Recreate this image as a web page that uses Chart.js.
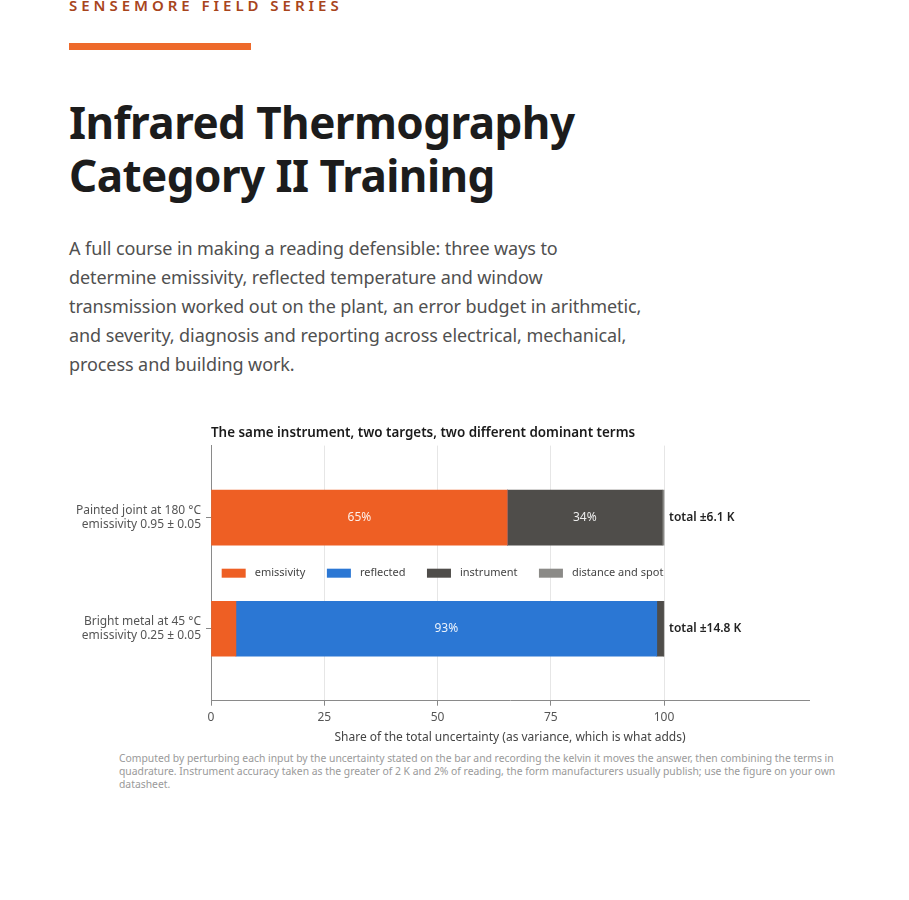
<!DOCTYPE html>
<html>
<head>
<meta charset="utf-8">
<script src="https://cdn.jsdelivr.net/npm/chart.js@4.4.1/dist/chart.umd.min.js"></script>
<style>
  html, body { margin: 0; padding: 0; background: #ffffff; }
  body { width: 909px; height: 900px; position: relative; overflow: hidden; font-family: "Noto Sans", "Open Sans", sans-serif; }
  .kicker { position: absolute; left: 69px; top: -2px; font-size: 15px; line-height: 15px; font-weight: 600; letter-spacing: 3.97px; color: #a8451c; white-space: nowrap; }
  .rule { position: absolute; left: 69px; top: 43px; width: 182px; height: 7px; background: #ee6a2b; }
  h1 { position: absolute; left: 69px; top: 96px; margin: 0; font-size: 44px; line-height: 53px; font-weight: 700; color: #1c1c1c; letter-spacing: -0.55px; white-space: nowrap; }
  .lede { position: absolute; left: 69px; top: 233.5px; margin: 0; font-size: 18px; line-height: 29px; color: #505050; white-space: nowrap; letter-spacing: -0.08px; }
  .chartbox { position: absolute; left: 60px; top: 412px; width: 780px; height: 337px; }
  .note { position: absolute; left: 119px; top: 752px; margin: 0; font-size: 10.35px; line-height: 13px; color: #9a9a9a; white-space: nowrap; }
</style>
</head>
<body>
<div class="kicker">SENSEMORE FIELD SERIES</div>
<div class="rule"></div>
<h1>Infrared Thermography<br>Category II Training</h1>
<p class="lede">A full course in making a reading defensible: three ways to<br>determine emissivity, reflected temperature and window<br>transmission worked out on the plant, an error budget in arithmetic,<br>and severity, diagnosis and reporting across electrical, mechanical,<br>process and building work.</p>
<div class="chartbox"><canvas id="c"></canvas></div>
<p class="note">Computed by perturbing each input by the uncertainty stated on the bar and recording the kelvin it moves the answer, then combining the terms in<br>quadrature. Instrument accuracy taken as the greater of 2 K and 2% of reading, the form manufacturers usually publish; use the figure on your own<br>datasheet.</p>
<script>
// ---- data ----
const categories = [
  ["Painted joint at 180 °C", "emissivity 0.95 ± 0.05"],
  ["Bright metal at 45 °C", "emissivity 0.25 ± 0.05"]
];
const seriesNames = ["emissivity", "reflected", "instrument", "distance and spot"];
const emissivityShare = [65.4, 5.5];
const reflectedShare = [0, 92.9];
const instrumentShare = [34.2, 1.5];
const distanceShare = [0.4, 0.1];
const totalsK = [6.1, 14.8];
const xTickValues = [0, 25, 50, 75, 100];

const seriesColors = ["#ee5f24", "#2b77d4", "#4f4d4a", "#8b8a87"];
const FONT = '"Noto Sans", "Open Sans", sans-serif';

const overlay = {
  id: 'overlay',
  afterDatasetsDraw(chart) {
    const ctx = chart.ctx;
    const xs = chart.scales.x, ys = chart.scales.y;
    // percentage labels inside large segments
    chart.data.datasets.forEach((ds, di) => {
      const meta = chart.getDatasetMeta(di);
      meta.data.forEach((bar, i) => {
        const v = ds.data[i];
        if (v >= 10) {
          ctx.save();
          ctx.fillStyle = 'rgba(255,255,255,0.9)';
          ctx.font = '12px ' + FONT;
          ctx.textAlign = 'center';
          ctx.textBaseline = 'middle';
          ctx.fillText(Math.round(v) + '%', (bar.x + bar.base) / 2, bar.y);
          ctx.restore();
        }
      });
    });
    // totals after the bars
    categories.forEach((c, i) => {
      let sum = 0;
      chart.data.datasets.forEach(ds => { sum += ds.data[i]; });
      ctx.save();
      ctx.fillStyle = '#222222';
      ctx.font = '600 12px ' + FONT;
      ctx.textAlign = 'left';
      ctx.textBaseline = 'middle';
      ctx.fillText('total ±' + totalsK[i].toFixed(1) + ' K', xs.getPixelForValue(sum) + 5, ys.getPixelForValue(i));
      ctx.restore();
    });
    // legend between the two bars
    ctx.save();
    ctx.font = '11px ' + FONT;
    const boxW = 24, boxH = 9, gap = 9, spacing = 21.5;
    const widths = chart.data.datasets.map(ds => ctx.measureText(ds.label).width);
    let total = 0;
    widths.forEach(w => { total += boxW + gap + w; });
    total += spacing * (widths.length - 1);
    const cx = (xs.getPixelForValue(0) + xs.getPixelForValue(100)) / 2 + 5;
    const cy = (ys.getPixelForValue(0) + ys.getPixelForValue(1)) / 2;
    let x = cx - total / 2;
    chart.data.datasets.forEach((ds, di) => {
      ctx.fillStyle = ds.backgroundColor;
      ctx.fillRect(x, cy - boxH / 2, boxW, boxH);
      ctx.fillStyle = '#444444';
      ctx.textAlign = 'left';
      ctx.textBaseline = 'middle';
      ctx.fillText(ds.label, x + boxW + gap, cy);
      x += boxW + gap + widths[di] + spacing;
    });
    ctx.restore();
  }
};

new Chart(document.getElementById('c'), {
  type: 'bar',
  data: {
    labels: categories,
    datasets: [
      { label: seriesNames[0], data: emissivityShare, backgroundColor: seriesColors[0] },
      { label: seriesNames[1], data: reflectedShare, backgroundColor: seriesColors[1] },
      { label: seriesNames[2], data: instrumentShare, backgroundColor: seriesColors[2] },
      { label: seriesNames[3], data: distanceShare, backgroundColor: seriesColors[3] }
    ]
  },
  options: {
    indexAxis: 'y',
    responsive: true,
    maintainAspectRatio: false,
    animation: false,
    layout: { padding: { top: 0, right: 31, bottom: 0, left: 0 } },
    datasets: { bar: { barThickness: 55, borderWidth: 0 } },
    plugins: {
      legend: { display: false },
      tooltip: { enabled: false },
      title: {
        display: true,
        text: 'The same instrument, two targets, two different dominant terms',
        align: 'start',
        fullSize: false,
        color: '#1a1a1a',
        font: { family: FONT, size: 13.4, weight: '600' },
        padding: { top: 13, bottom: 4.5 }
      }
    },
    scales: {
      x: {
        stacked: true,
        min: 0,
        max: 132,
        afterBuildTicks: s => { s.ticks = xTickValues.map(v => ({ value: v })); },
        grid: { color: '#e6e6e6', tickLength: 5, tickColor: '#888888' },
        border: { color: '#8a8a8a' },
        ticks: { color: '#555555', font: { family: FONT, size: 12 }, padding: 5 },
        title: {
          display: true,
          text: 'Share of the total uncertainty (as variance, which is what adds)',
          color: '#444444',
          font: { family: FONT, size: 12 },
          padding: { top: 0.5, bottom: 4 }
        }
      },
      y: {
        stacked: true,
        afterBuildTicks: s => { s._startValue = -0.649; s._valueRange = 2.297; },
        afterFit: s => { s.width = 151; },
        grid: { drawOnChartArea: false, offset: false, tickLength: 5, tickColor: '#888888' },
        border: { color: '#8a8a8a' },
        ticks: { color: '#555555', font: { family: FONT, size: 12, lineHeight: 1.15 }, padding: 5 }
      }
    }
  },
  plugins: [overlay]
});
</script>
</body>
</html>
